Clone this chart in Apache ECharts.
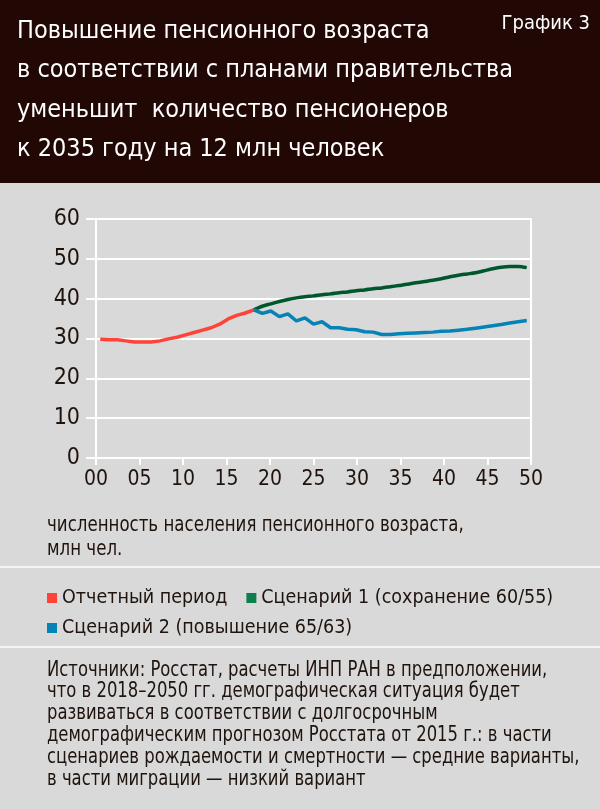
<!DOCTYPE html>
<html>
<head>
<meta charset="utf-8">
<script src="https://cdn.jsdelivr.net/npm/echarts@6/dist/echarts.min.js"></script>
<style>
html,body{margin:0;padding:0;background:#d9d9d9;}
#chart{width:600px;height:809px;}
</style>
</head>
<body>
<div id="chart"></div>
<script>
// ---- data ----
var years = [];
for (var y = 2000; y <= 2050; y++) years.push(String(y));
var xTickLabels = ['00','05','10','15','20','25','30','35','40','45','50'];
var reportedYears = ['2000','2001','2002','2003','2004','2005','2006','2007','2008','2009','2010','2011','2012','2013','2014','2015','2016','2017','2018'];
var reported = [29.8,29.7,29.7,29.4,29.1,29.1,29.1,29.4,29.9,30.3,30.9,31.5,32.1,32.7,33.6,34.9,35.8,36.4,37.2];
var scenarioYears = ['2018','2019','2020','2021','2022','2023','2024','2025','2026','2027','2028','2029','2030','2031','2032','2033','2034','2035','2036','2037','2038','2039','2040','2041','2042','2043','2044','2045','2046','2047','2048','2049','2050'];
var scenario1 = [37.2,38.1,38.7,39.3,39.8,40.2,40.5,40.7,41.0,41.2,41.5,41.7,42.0,42.2,42.5,42.7,43.0,43.3,43.6,44.0,44.3,44.6,45.0,45.5,45.9,46.2,46.5,47.0,47.5,47.9,48.1,48.1,47.8];
var scenario2 = [37.2,36.3,36.9,35.5,36.2,34.4,35.2,33.6,34.2,32.7,32.7,32.3,32.2,31.7,31.6,31.0,31.0,31.2,31.3,31.4,31.5,31.6,31.8,31.9,32.1,32.3,32.6,32.9,33.2,33.5,33.9,34.2,34.5];
var seriesNames = ['Отчетный период','Сценарий 1 (сохранение 60/55)','Сценарий 2 (повышение 65/63)'];

var titleLines = ['Повышение пенсионного возраста','в соответствии с планами правительства','уменьшит  количество пенсионеров','к 2035 году на 12 млн человек'];
var chartLabel = 'График 3';
var unitLines = ['численность населения пенсионного возраста,','млн чел.'];
var sourceLines = ['Источники: Росстат, расчеты ИНП РАН в предположении,','что в 2018–2050 гг. демографическая ситуация будет','развиваться в соответствии с долгосрочным','демографическим прогнозом Росстата от 2015 г.: в части','сценариев рождаемости и смертности — средние варианты,','в части миграции — низкий вариант'];

// ---- styling ----
var FONT = "'Liberation Sans Narrow','DejaVu Sans Condensed','Roboto Condensed',sans-serif";
var TXT = '#1f130d';
var RED = '#ff4338', GREEN_LEG = '#0b7f4c', GREEN = '#00572b', BLUE = '#0583b6';

function pairs(xs, vs){ return xs.map(function(x,i){ return [x, vs[i]]; }); }

var chart = echarts.init(document.getElementById('chart'), null, {renderer:'canvas'});
var option = {
  backgroundColor: '#d9d9d9',
  animation: false,
  title: [
    { text: titleLines.join('\n'), left: 17, top: 12, padding: 0,
      textStyle: { color:'#ffffff', fontFamily: FONT, fontSize: 25, fontWeight: 'normal', lineHeight: 39.3 } },
    { text: chartLabel, right: 10, top: 14, padding: 0,
      textStyle: { color:'#ffffff', fontFamily: FONT, fontSize: 20, fontWeight: 'normal' } }
  ],
  graphic: [
    { type:'rect', z:-1, shape:{x:0,y:0,width:600,height:183}, style:{fill:'#210805'} },
    { type:'rect', z:-1, shape:{x:0,y:566,width:600,height:2}, style:{fill:'#f4f4f4'} },
    { type:'rect', z:-1, shape:{x:0,y:646,width:600,height:2}, style:{fill:'#f4f4f4'} },
    { type:'text', x: 47, y: 514, scaleX: 0.88,
      style:{ text: unitLines.join('\n'), fill: TXT, font: '21px ' + FONT, lineHeight: 24, textVerticalAlign:'top', verticalAlign:'top' } },
    { type:'text', x: 47, y: 659, scaleX: 0.83,
      style:{ text: sourceLines.join('\n'), fill: TXT, font: '22px ' + FONT, lineHeight: 21.8, textVerticalAlign:'top', verticalAlign:'top' } }
  ],
  legend: [
    { data:[seriesNames[0], seriesNames[1]], left: 47, top: 588, orient:'horizontal', padding: 0,
      icon:'rect', itemWidth: 10, itemHeight: 10, itemGap: 19, width: 560,
      textStyle:{ color: TXT, fontFamily: FONT, fontSize: 19.5 } },
    { data:[seriesNames[2]], left: 47, top: 618, orient:'horizontal', padding: 0,
      icon:'rect', itemWidth: 10, itemHeight: 10,
      textStyle:{ color: TXT, fontFamily: FONT, fontSize: 19.5 } }
  ],
  grid: { left: 96, right: 69, top: 219, bottom: 809 - 458, containLabel: false },
  xAxis: [
    { type:'value', min:0, max:50, interval:5,
      axisLine:{ show:true, lineStyle:{ color:'#ffffff', width:2 } },
      axisTick:{ show:true, length:7, lineStyle:{ color:'#ffffff', width:2 } },
      splitLine:{ show:false },
      axisLabel:{ color: TXT, fontFamily: FONT, fontSize: 21, margin: 11,
        formatter: function(v){ return xTickLabels[Math.round(v/5)]; } } },
    { type:'category', data: years, boundaryGap: true, show: false }
  ],
  yAxis: [
    { type:'value', min:0, max:60, interval:10,
      axisLine:{ show:true, lineStyle:{ color:'#ffffff', width:2 } },
      axisTick:{ show:true, length:10, lineStyle:{ color:'#ffffff', width:2 } },
      splitLine:{ show:true, lineStyle:{ color:'#ffffff', width:2 } },
      axisLabel:{ color: TXT, fontFamily: FONT, fontSize: 23, margin: 16 } },
    { type:'value', min:0, max:60, interval:10, position:'right',
      axisLine:{ show:true, lineStyle:{ color:'#ffffff', width:2 } },
      axisTick:{ show:false }, axisLabel:{ show:false }, splitLine:{ show:false } }
  ],
  series: [
    { name: seriesNames[0], type:'line', xAxisIndex:1, yAxisIndex:0, data: pairs(reportedYears, reported),
      showSymbol:false, symbol:'none', itemStyle:{ color: RED }, lineStyle:{ color: RED, width:3.5 }, z:3 },
    { name: seriesNames[1], type:'line', xAxisIndex:1, yAxisIndex:0, data: pairs(scenarioYears, scenario1),
      showSymbol:false, symbol:'none', smooth:0.3, itemStyle:{ color: GREEN_LEG }, lineStyle:{ color: GREEN, width:3.5 }, z:4 },
    { name: seriesNames[2], type:'line', xAxisIndex:1, yAxisIndex:0, data: pairs(scenarioYears, scenario2),
      showSymbol:false, symbol:'none', itemStyle:{ color: BLUE }, lineStyle:{ color: BLUE, width:3.5 }, z:4 }
  ]
};
chart.setOption(option);
</script>
</body>
</html>
